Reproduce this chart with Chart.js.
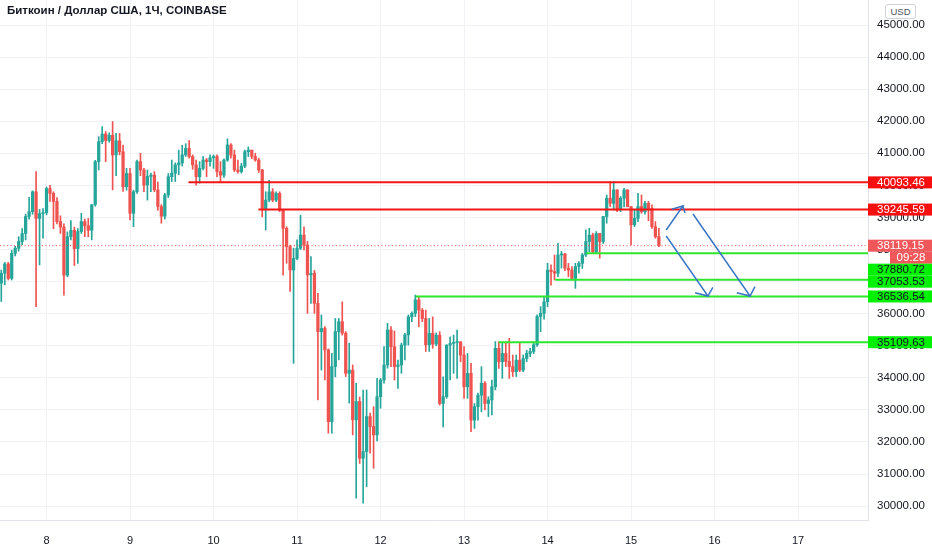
<!DOCTYPE html>
<html>
<head>
<meta charset="utf-8">
<script src="https://cdn.jsdelivr.net/npm/chart.js@4"></script>
<style>
  body { margin: 0; background: #fff; }
  #wrap { position: relative; width: 932px; height: 550px; }
  canvas { display: block; }
  #title {
    position: absolute; left: 7px; top: 4px;
    font: bold 11.5px "Liberation Sans", Arial, sans-serif; color: #131722;
  }
  #cur {
    position: absolute; left: 885px; top: 4px; width: 29px; height: 13px;
    border: 1px solid #d1d4dc; border-radius: 3px; background: #fff;
    font: 9.5px "Liberation Sans", Arial, sans-serif; color: #50535e;
    text-align: center; line-height: 13px;
  }
</style>
</head>
<body>
<div id="wrap">
  <canvas id="chart" width="932" height="550"></canvas>
  <div id="title">Биткоин / Доллар США, 1Ч, COINBASE</div>
  <div id="cur">USD</div>
</div>
<script>
// ── DATA ─────────────────────────────────────────────────────────────────────
// hourly candles, hour 0 = 8th 00:00, first candle at hour -13
const FIRST_HOUR = -13;

const opens = [
  36950, 37260, 37550, 37100, 37880, 38040, 38250, 38500, 39030, 39180,
  39800, 38970, 39120, 39150, 39900, 39750, 39500, 38870, 38700, 37200,
  38400, 38600, 38030, 38560, 38870, 38740, 38600, 39400, 40740, 41360,
  41600, 41400, 41560, 40950, 41390, 41050, 39960, 40370, 39130, 39800,
  40740, 40480, 40010, 40280, 40320, 39860, 39340, 39040, 39700, 40270,
  40380, 40640, 40700, 40950, 41150, 40900, 40640, 40270, 40530, 40790,
  40740, 40860, 40900, 40430, 40320, 40790, 41260, 40950, 40480, 40430,
  40600, 41050, 41100, 40900, 40790, 40480, 39280, 39540, 39800, 39540,
  39750, 39230, 38660, 38090, 37360, 37720, 38040, 38450, 38140, 37210,
  37260, 36320, 35440, 35540, 34870, 32630, 34350, 35440, 35750, 35390,
  34140, 34240, 32690, 33260, 31490, 31700, 32790, 32480, 32220, 33410,
  33930, 34400, 35490, 34970, 34350, 34400, 35020, 35340, 35900, 36010,
  36430, 36110, 35850, 35030, 35390, 35050, 35330, 33200, 33410, 35020,
  35070, 35100, 35120, 34710, 33720, 34140, 32680, 33100, 33460, 33830,
  33200, 33310, 33720, 34920, 34500, 34760, 34510, 34350, 34190, 34550,
  34240, 34600, 34760, 34820, 35030, 35910, 36010, 36370, 37360, 37310,
  37260, 37830, 37860, 37420, 37360, 37100, 37470, 37570, 37830, 38250,
  38450, 37930, 38500, 38250, 39030, 39600, 39440, 39860, 39230, 39600,
  39860, 39340, 38770, 38970, 39340, 39180, 39440, 39280, 38710, 38400
];
const highs = [
  37360, 37600, 37600, 37980, 38100, 38400, 38650, 39100, 39630, 39830,
  40430, 39250, 39280, 39950, 40000, 39800, 39620, 39050, 38800, 38550,
  38900, 38700, 38650, 39130, 38950, 38970, 39400, 40780, 41520, 41830,
  41680, 41640, 41990, 41620, 41620, 41260, 40530, 40530, 39850, 40790,
  41000, 40530, 40480, 40380, 40430, 40100, 39400, 39750, 40370, 40790,
  40700, 41100, 41250, 41300, 41400, 40950, 40790, 40740, 40900, 40840,
  40950, 40950, 40950, 40740, 40830, 41450, 41300, 41100, 40790, 40690,
  41100, 41200, 41100, 41000, 40850, 40500, 39800, 40160, 39900, 39800,
  39800, 39250, 38710, 38140, 38040, 38300, 39070, 38710, 38250, 37780,
  37350, 36630, 35960, 35600, 34900, 34760, 35850, 35850, 36370, 35440,
  35080, 34400, 33830, 33400, 33620, 33620, 32900, 33100, 33980, 33980,
  34970, 35700, 35600, 35460, 34550, 35080, 35390, 35960, 36060, 36580,
  36530, 36160, 36110, 35850, 35900, 35400, 35440, 34030, 35030, 35280,
  35330, 35490, 35130, 34970, 34760, 34450, 33200, 33520, 34350, 33880,
  33410, 33930, 35130, 35130, 35080, 35080, 35230, 34710, 34710, 35080,
  34710, 34860, 34920, 35110, 35960, 36220, 36530, 37570, 37520, 37830,
  38190, 37940, 37880, 37570, 37470, 37570, 37620, 37880, 38610, 38660,
  38510, 38560, 38500, 39030, 39700, 40120, 40120, 39860, 39650, 39910,
  39860, 39340, 39230, 39750, 39700, 39500, 39500, 39390, 38870, 38660
];
const lows = [
  36380, 36900, 37050, 37050, 37800, 37950, 38150, 38300, 38950, 39100,
  36220, 37520, 38350, 39080, 39500, 38650, 38800, 38500, 36580, 37150,
  38300, 37500, 37570, 38500, 38400, 38400, 38300, 39350, 40480, 41300,
  40740, 41350, 39860, 40300, 40950, 39810, 39850, 38920, 38710, 39750,
  40300, 39800, 39540, 39800, 39800, 39230, 38820, 38950, 39620, 40120,
  40120, 40330, 40600, 40900, 40850, 40500, 40010, 40070, 40480, 40270,
  40600, 40530, 40270, 40120, 40250, 40750, 40850, 40430, 40380, 40380,
  40550, 40900, 40830, 40750, 40400, 39020, 38610, 39490, 39490, 39490,
  39180, 37200, 37570, 36690, 34450, 37680, 38000, 37990, 36010, 36320,
  36010, 33310, 34240, 33930, 32270, 32270, 34030, 34560, 35330, 34040,
  33210, 32220, 30250, 31330, 30090, 30610, 31650, 31180, 32030, 33050,
  33830, 34300, 34350, 33930, 33670, 34140, 34560, 35020, 35750, 35910,
  35590, 35750, 34820, 34820, 34920, 35000, 33150, 32470, 33360, 33930,
  34140, 33980, 34500, 33360, 33360, 32320, 32420, 32680, 32940, 33000,
  32790, 32840, 33620, 34290, 33980, 34350, 33980, 34040, 34040, 34190,
  34190, 34500, 34660, 34750, 34980, 35440, 35830, 36220, 36890, 37050,
  37150, 37420, 37340, 37150, 37050, 36790, 37260, 37410, 37780, 37930,
  37880, 37880, 37730, 38190, 38820, 39340, 39230, 39180, 39180, 39330,
  39330, 38140, 38710, 38870, 39130, 39100, 38900, 38660, 38350, 38090
];
const closes = [
  37260, 37550, 37100, 37880, 38040, 38250, 38500, 39030, 39180, 39800,
  38970, 39120, 39150, 39900, 39750, 39500, 38870, 38700, 37200, 38400,
  38600, 38030, 38560, 38870, 38740, 38600, 39400, 40740, 41360, 41600,
  41400, 41560, 40950, 41390, 41050, 39960, 40370, 39130, 39800, 40740,
  40480, 40010, 40280, 40320, 39860, 39340, 39040, 39700, 40270, 40380,
  40640, 40700, 40950, 41150, 40900, 40640, 40270, 40530, 40790, 40740,
  40860, 40900, 40430, 40320, 40790, 41260, 40950, 40480, 40430, 40600,
  41050, 41100, 40900, 40790, 40480, 39280, 39540, 39800, 39540, 39750,
  39230, 38660, 38090, 37360, 37720, 38040, 38450, 38140, 37210, 37260,
  36320, 35440, 35540, 34870, 32630, 34350, 35440, 35750, 35390, 34140,
  34240, 32690, 33260, 31490, 31700, 32790, 32480, 32220, 33410, 33930,
  34400, 35490, 34970, 34350, 34400, 35020, 35340, 35900, 36010, 36430,
  36110, 35850, 35030, 35390, 35050, 35330, 33200, 33410, 35020, 35070,
  35100, 35120, 34710, 33720, 34140, 32680, 33100, 33460, 33830, 33200,
  33310, 33720, 34920, 34500, 34760, 34510, 34350, 34190, 34550, 34240,
  34600, 34760, 34820, 35030, 35910, 36010, 36370, 37360, 37310, 37260,
  37830, 37860, 37420, 37360, 37100, 37470, 37570, 37830, 38250, 38450,
  37930, 38500, 38250, 39030, 39600, 39440, 39860, 39230, 39600, 39860,
  39340, 38770, 38970, 39340, 39180, 39440, 39280, 38710, 38400, 38119.15
];

// horizontal levels drawn on the chart (price, hour where the ray starts)
const levelPrices = [40093.46, 39245.59, 37880.72, 37053.53, 36536.54, 35109.63];
const levelStarts = [40.8, 60.9, 155.1, 146.2, 106.1, 129.9];
const levelKinds  = ['res', 'res', 'sup', 'sup', 'sup', 'sup'];

const lastPrice = 38119.15;
const barTimer  = '09:28';

// hand-drawn arrows: [hour, price] polyline (shaft + head)
const arrowUp    = [[178.1, 38608], [182.9, 39356], [179.7, 39254], [182.9, 39356], [183.5, 39138]];
const arrowDown1 = [[178.1, 38421], [190.1, 36550], [186.4, 36653], [190.1, 36550], [191.5, 36821]];
const arrowDown2 = [[185.8, 39107], [202.2, 36550], [198.4, 36653], [202.2, 36550], [203.6, 36840]];

const dayHours  = [0, 24, 48, 72, 96, 120, 144, 168, 192, 216];
const dayLabels = ['8', '9', '10', '11', '12', '13', '14', '15', '16', '17'];
const priceTicks = [30000, 31000, 32000, 33000, 34000, 35000, 36000, 37000,
                    38000, 39000, 40000, 41000, 42000, 43000, 44000, 45000];

// ── STYLE ────────────────────────────────────────────────────────────────────
const UP = '#26a69a', DOWN = '#ef5350';
const KIND_COLOR = { res: '#f21616', sup: '#2ee62e' };
const KIND_BOX   = { res: '#f70f0f', sup: '#00f200' };
const KIND_TEXT  = { res: '#ffffff', sup: '#131722' };
const ARROW = '#3b76c4';
const FONT = '"Liberation Sans", Arial, sans-serif';

const X_MIN = -13.37, X_MAX = 236.1;
const Y_MIN = 29566, Y_MAX = 45780;

// ── DATASETS ─────────────────────────────────────────────────────────────────
const candleColor = i => closes[i] >= opens[i] ? UP : DOWN;

const wicks = opens.map((o, i) => ({ x: FIRST_HOUR + i, y: [lows[i], highs[i]] }));
const bodies = opens.map((o, i) => ({ x: FIRST_HOUR + i, y: [o, closes[i]] }));

const levelSets = levelPrices.map((p, i) => ({
  type: 'line',
  data: [{ x: levelStarts[i], y: p }, { x: X_MAX, y: p }],
  borderColor: KIND_COLOR[levelKinds[i]],
  borderWidth: 2,
  pointRadius: 0,
  order: 1,
}));

const arrowSets = [arrowUp, arrowDown1, arrowDown2].map(a => ({
  type: 'line',
  data: a.map(([x, y]) => ({ x, y })),
  borderColor: ARROW,
  borderWidth: 1.5,
  pointRadius: 0,
  tension: 0,
  order: 0,
}));

// ── PRICE LABELS ON THE AXIS ─────────────────────────────────────────────────
const priceLabels = {
  id: 'priceLabels',
  afterDraw(chart) {
    const { ctx, chartArea, scales: { y } } = chart;
    const left = chartArea.right, right = chart.width, H = 12;
    ctx.save();
    ctx.font = '11.5px ' + FONT;
    ctx.textBaseline = 'middle';
    const box = (cy, bg, fg, text, x0, align) => {
      ctx.fillStyle = bg;
      ctx.fillRect(x0, cy - H / 2, right - x0, H);
      ctx.fillStyle = fg;
      ctx.textAlign = align || 'left';
      ctx.fillText(text, align === 'center' ? (x0 + right) / 2 : x0 + 9, cy + 0.5);
    };

    // last price + bar countdown
    const cy = y.getPixelForValue(lastPrice);
    box(cy, '#f0575a', '#fff', lastPrice.toFixed(2), left);
    box(cy + H, '#f0575a', '#fff', barTimer, 890, 'center');

    // levels: resistances above, supports pushed below the countdown box
    let floor = cy + H * 1.5;
    levelPrices.forEach((p, i) => {
      let ly = y.getPixelForValue(p);
      if (p < lastPrice) {
        ly = Math.max(ly, floor + H / 2);
        floor = ly + H / 2;
      }
      const k = levelKinds[i];
      box(ly, KIND_BOX[k], KIND_TEXT[k], p.toFixed(2), left);
    });
    ctx.restore();
  }
};

// ── CHART ────────────────────────────────────────────────────────────────────
const noPad = s => { s.paddingTop = 0; s.paddingBottom = 0; s.paddingLeft = 0; s.paddingRight = 0; };

new Chart(document.getElementById('chart'), {
  type: 'bar',
  data: {
    datasets: [
      {
        data: wicks,
        backgroundColor: ctx => candleColor(ctx.dataIndex),
        barThickness: 1,
        grouped: false,
        order: 3,
      },
      {
        data: bodies,
        backgroundColor: ctx => candleColor(ctx.dataIndex),
        barThickness: 2.6,
        minBarLength: 1,
        grouped: false,
        order: 2,
      },
      {
        type: 'line',
        data: [{ x: X_MIN, y: lastPrice }, { x: X_MAX, y: lastPrice }],
        borderColor: '#ef5350',
        borderWidth: 1,
        borderDash: [1, 2.5],
        pointRadius: 0,
        order: 1,
      },
      ...levelSets,
      ...arrowSets,
    ]
  },
  options: {
    responsive: false,
    animation: false,
    layout: { padding: 0 },
    plugins: {
      legend: { display: false },
      tooltip: { enabled: false },
    },
    scales: {
      x: {
        type: 'linear',
        min: X_MIN,
        max: X_MAX,
        offset: false,
        grid: { color: '#f0f2f6', drawTicks: false, offset: false },
        border: { color: '#e0e3eb' },
        afterBuildTicks: s => { s.ticks = dayHours.map(v => ({ value: v })); },
        afterFit: s => { s.height = 30; noPad(s); },
        ticks: {
          padding: 14,
          color: '#131722',
          font: { family: FONT, size: 11 },
          maxRotation: 0,
          autoSkip: false,
          callback: v => dayLabels[dayHours.indexOf(v)],
        },
      },
      y: {
        position: 'right',
        min: Y_MIN,
        max: Y_MAX,
        grid: { color: '#f0f2f6', drawTicks: false },
        border: { color: '#e0e3eb' },
        afterBuildTicks: s => { s.ticks = priceTicks.map(v => ({ value: v })); },
        afterFit: s => { s.width = 64; noPad(s); },
        ticks: {
          padding: 9,
          color: '#131722',
          font: { family: FONT, size: 11.5 },
          callback: v => v.toFixed(2),
        },
      },
    },
  },
  plugins: [priceLabels],
});
</script>
</body>
</html>
